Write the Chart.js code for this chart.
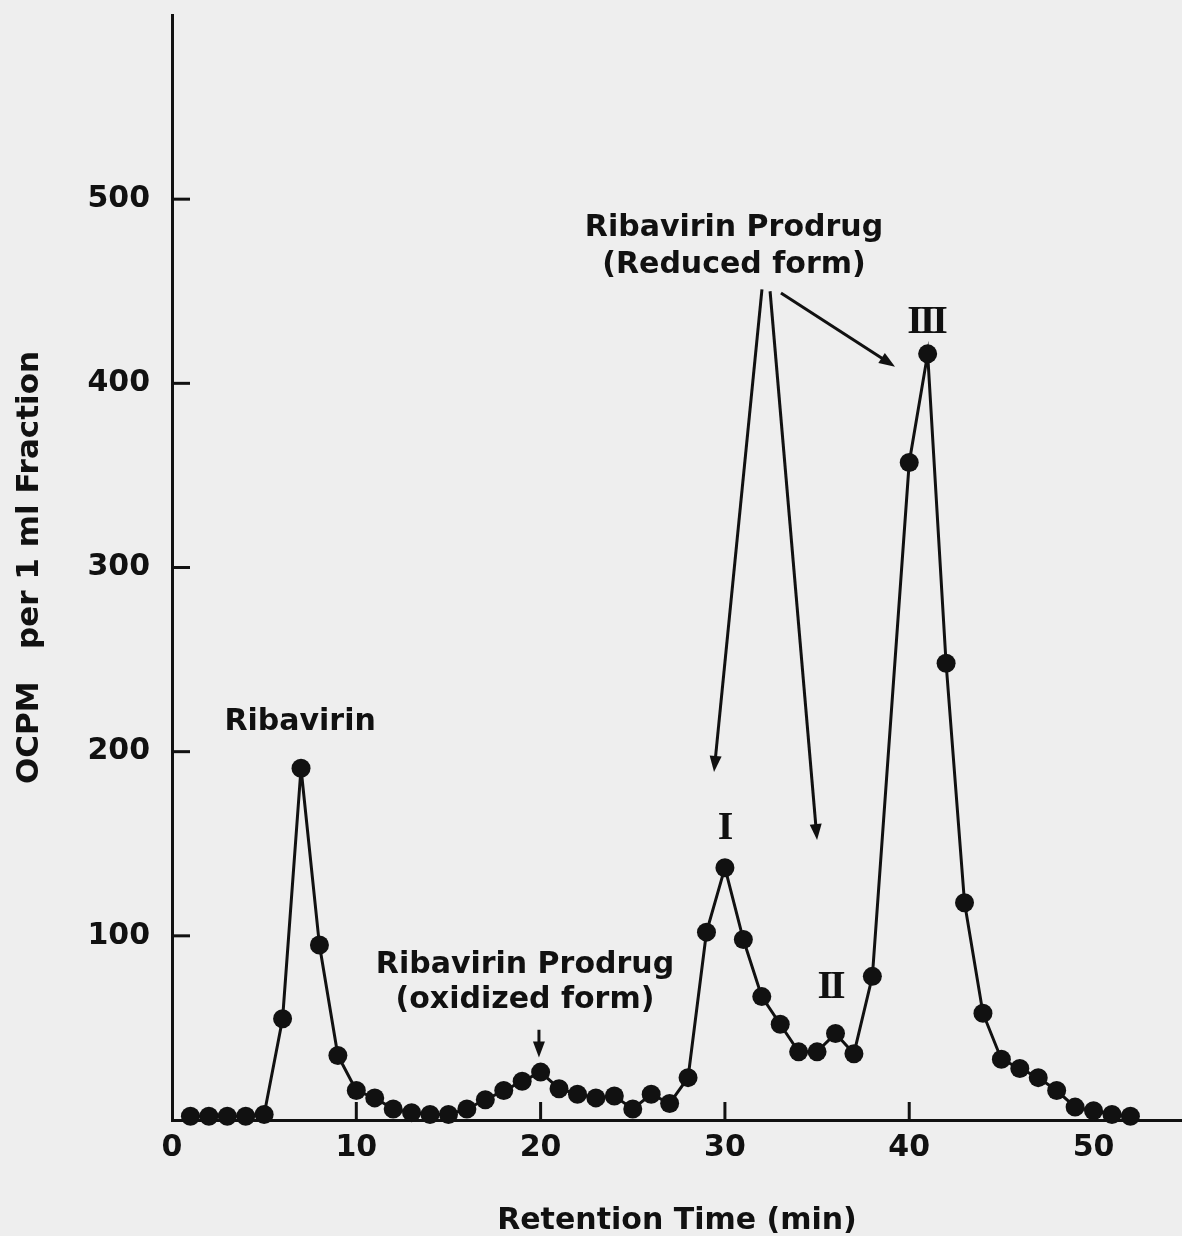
<!DOCTYPE html>
<html>
<head>
<meta charset="utf-8">
<script src="https://cdn.jsdelivr.net/npm/chart.js@4.4.0/dist/chart.umd.min.js"></script>
<style>
  html, body { margin: 0; padding: 0; background: #eeeeee; }
  #wrap { width: 1182px; height: 1236px; }
</style>
</head>
<body>
<div id="wrap"><canvas id="chart"></canvas></div>
<script>
// retention time of each 1 ml fraction (min) and its counts
const minutes = [1, 2, 3, 4, 5, 6, 7, 8, 9, 10, 11, 12, 13, 14, 15, 16, 17, 18, 19, 20,
  21, 22, 23, 24, 25, 26, 27, 28, 29, 30, 31, 32, 33, 34, 35, 36, 37, 38,
  40, 41, 42, 43, 44, 45, 46, 47, 48, 49, 50, 51, 52];
const counts = [2, 2, 2, 2, 3, 55, 191, 95, 35, 16, 12, 6, 4, 3, 3, 6, 11, 16, 21, 26,
  17, 14, 12, 13, 6, 14, 9, 23, 102, 137, 98, 67, 52, 37, 37, 47, 36, 78,
  357, 416, 248, 118, 58, 33, 28, 23, 16, 7, 5, 3, 2];

const xTicks = [0, 10, 20, 30, 40, 50];
const yTicks = [100, 200, 300, 400, 500];

const xTitle = 'Retention Time (min)';
const yTitle = 'OCPM   per 1 ml Fraction';

// text notes, anchored in data units
const notes = [
  { text: 'Ribavirin', x: 6.95, y: 216 },
  { text: 'Ribavirin Prodrug', x: 19.15, y: 84 },
  { text: '(oxidized form)', x: 19.15, y: 65 },
  { text: 'Ribavirin Prodrug', x: 30.49, y: 484 },
  { text: '(Reduced form)', x: 30.49, y: 464 }
];
const numerals = [
  { text: 'I', x: 29.95, y: 158 },
  { text: 'II', x: 35.7, y: 72 },
  { text: 'III', x: 40.91, y: 433 }
];
const arrows = [
  { from: [19.91, 49], to: [19.91, 34] },
  { from: [32.01, 451], to: [29.41, 189] },
  { from: [32.45, 450], to: [35.0, 152] },
  { from: [33.04, 449], to: [39.23, 409] }
];

const ink = '#111111';
const sans = '"DejaVu Sans", "Liberation Sans", sans-serif';

const paper = {
  id: 'paper',
  beforeDraw(chart) {
    const { ctx, width, height } = chart;
    ctx.save();
    ctx.fillStyle = '#eeeeee';
    ctx.fillRect(0, 0, width, height);
    ctx.restore();
  }
};

// tick marks point into the plot, like the original
const innerTicks = {
  id: 'innerTicks',
  beforeDatasetsDraw(chart) {
    const { ctx, scales: { x, y } } = chart;
    ctx.save();
    ctx.strokeStyle = ink;
    ctx.lineWidth = 3;
    yTicks.forEach(v => {
      const py = y.getPixelForValue(v);
      ctx.beginPath();
      ctx.moveTo(x.left, py);
      ctx.lineTo(x.left + 18, py);
      ctx.stroke();
    });
    xTicks.slice(1).forEach(v => {
      const px = x.getPixelForValue(v);
      ctx.beginPath();
      ctx.moveTo(px, y.bottom);
      ctx.lineTo(px, y.bottom - 18);
      ctx.stroke();
    });
    ctx.restore();
  }
};

const drawArrow = (ctx, x0, y0, x1, y1) => {
  const a = Math.atan2(y1 - y0, x1 - x0);
  const head = 16, half = 6;
  ctx.beginPath();
  ctx.moveTo(x0, y0);
  ctx.lineTo(x1 - head * 0.8 * Math.cos(a), y1 - head * 0.8 * Math.sin(a));
  ctx.stroke();
  ctx.beginPath();
  ctx.moveTo(x1, y1);
  ctx.lineTo(x1 - head * Math.cos(a) + half * Math.sin(a), y1 - head * Math.sin(a) - half * Math.cos(a));
  ctx.lineTo(x1 - head * Math.cos(a) - half * Math.sin(a), y1 - head * Math.sin(a) + half * Math.cos(a));
  ctx.closePath();
  ctx.fill();
};

const annotations = {
  id: 'annotations',
  afterDatasetsDraw(chart) {
    const { ctx, scales: { x, y } } = chart;
    ctx.save();
    ctx.fillStyle = ink;
    ctx.strokeStyle = ink;
    ctx.textAlign = 'center';
    ctx.textBaseline = 'middle';
    ctx.font = 'bold 30px ' + sans;
    notes.forEach(n => ctx.fillText(n.text, x.getPixelForValue(n.x), y.getPixelForValue(n.y)));

    ctx.font = 'bold 40px "Liberation Serif", "DejaVu Serif", serif';
    if ('letterSpacing' in ctx) ctx.letterSpacing = '-3px';
    numerals.forEach(n => ctx.fillText(n.text, x.getPixelForValue(n.x), y.getPixelForValue(n.y)));
    if ('letterSpacing' in ctx) ctx.letterSpacing = '0px';

    ctx.lineWidth = 3;
    arrows.forEach(a => drawArrow(ctx,
      x.getPixelForValue(a.from[0]), y.getPixelForValue(a.from[1]),
      x.getPixelForValue(a.to[0]), y.getPixelForValue(a.to[1])));
    ctx.restore();
  }
};

new Chart(document.getElementById('chart'), {
  type: 'line',
  data: {
    datasets: [{
      data: minutes.map((m, i) => ({ x: m, y: counts[i] })),
      borderColor: ink,
      backgroundColor: ink,
      borderWidth: 3,
      pointRadius: 9.5,
      pointBorderWidth: 0,
      pointBackgroundColor: ink,
      tension: 0,
      clip: false
    }]
  },
  options: {
    responsive: true,
    maintainAspectRatio: false,
    animation: false,
    layout: { autoPadding: false, padding: { top: 15, right: 0, left: 0, bottom: 0 } },
    plugins: {
      legend: { display: false },
      tooltip: { enabled: false }
    },
    scales: {
      x: {
        type: 'linear',
        min: 0,
        max: 54.8,
        afterBuildTicks: s => { s.ticks = xTicks.map(v => ({ value: v })); },
        afterFit: s => { s.height = 116; s.paddingLeft = 0; s.paddingRight = 0; },
        grid: { display: false, drawTicks: false },
        border: { display: true, color: ink, width: 3 },
        ticks: {
          padding: 10,
          color: ink,
          autoSkip: false,
          maxRotation: 0,
          font: { family: sans, size: 30, weight: 'bold' }
        },
        title: {
          display: true,
          text: xTitle,
          color: ink,
          font: { family: sans, size: 30, weight: 'bold', lineHeight: 1.0 },
          padding: { top: 0, bottom: 0 }
        }
      },
      y: {
        min: 0,
        max: 600,
        afterBuildTicks: s => { s.ticks = yTicks.map(v => ({ value: v })); },
        afterFit: s => { s.width = 172; s.paddingTop = 0; s.paddingBottom = 0; },
        grid: { display: false, drawTicks: false },
        border: { display: true, color: ink, width: 3 },
        ticks: {
          padding: 22,
          color: ink,
          autoSkip: false,
          font: { family: sans, size: 30, weight: 'bold' }
        },
        title: {
          display: true,
          text: yTitle,
          color: ink,
          font: { family: sans, size: 31, weight: 'bold', lineHeight: 1.0 },
          padding: { top: 14, bottom: 0 }
        }
      }
    }
  },
  plugins: [paper, innerTicks, annotations]
});
</script>
</body>
</html>
